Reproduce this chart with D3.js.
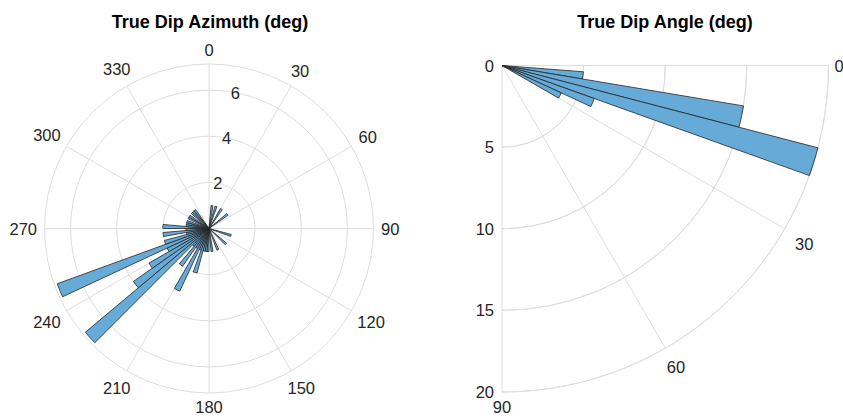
<!DOCTYPE html>
<html>
<head>
<meta charset="utf-8">
<script src="https://cdn.jsdelivr.net/npm/d3@7"></script>
<style>
  html, body { margin: 0; padding: 0; background: #fff; }
  svg text { font-family: "Liberation Sans", Arial, Helvetica, sans-serif; }
</style>
</head>
<body>
<svg id="chart" width="843" height="418"></svg>
<script>
// ---------- DATA ----------
// Left: True Dip Azimuth histogram, 5-degree bins starting at 0
const azBinWidth = 5;
const azCounts = [
  0,1,0,1,0,0,1,0,0,0,1,0,   // 0-55
  0,0,0,0,0,0,0,0,0,1,0,0,   // 60-115
  0,0,1,0,0,0,0,1,0,0,1,0,   // 120-175
  1,1,1,2,1,3,1,2,1,7,4,3,   // 180-235
  2,7,2,1,2,1,2,1,1,1,0,1,   // 240-295
  1,0,1,1,1,0,0,0,0,0,0,0    // 300-355
];
const azThetaTicks = [0,30,60,90,120,150,180,210,240,270,300,330];
const azRTicks = [2,4,6];
const azRMax = 7.13;

// Right: True Dip Angle histogram
const dipEdges = [4.4, 9.5, 14.6, 19.7, 24.8, 29.9];
const dipCounts = [5, 15, 20, 6, 4];
const dipThetaTicks = [0,30,60,90];
const dipRTicks = [0,5,10,15,20];
const dipRMax = 20;

const titles = ["True Dip Azimuth (deg)", "True Dip Angle (deg)"];

// ---------- STYLE ----------
const gridColor = "#dedede";
const barFill = "#66aad7";
const barStroke = "#262626";
const textColor = "#262626";
const tickFont = 16.5;
const titleFont = 18;
const rad = Math.PI / 180;

const svg = d3.select("#chart");

// ---------- LEFT POLAR ----------
{
  const cx = 209, cy = 228.5, R = 164.5;
  const g = svg.append("g").attr("transform", `translate(${cx},${cy})`);
  const r = d3.scaleLinear().domain([0, azRMax]).range([0, R]);
  const pt = (deg, rr) => [Math.sin(deg*rad)*rr, -Math.cos(deg*rad)*rr];

  g.selectAll("line.spoke").data(azThetaTicks).join("line")
    .attr("x1", 0).attr("y1", 0)
    .attr("x2", d => pt(d, R)[0]).attr("y2", d => pt(d, R)[1])
    .attr("stroke", gridColor).attr("stroke-width", 1);
  g.selectAll("circle.ring").data(azRTicks.concat([azRMax])).join("circle")
    .attr("r", d => r(d)).attr("fill", "none")
    .attr("stroke", gridColor).attr("stroke-width", 1);

  const arc = d3.arc();
  const bins = azCounts.map((c, i) => ({start: i*azBinWidth, end: (i+1)*azBinWidth, c}))
    .filter(d => d.c > 0);
  g.selectAll("path.bar").data(bins).join("path")
    .attr("d", d => arc({innerRadius: 0, outerRadius: r(d.c),
                         startAngle: d.start*rad, endAngle: d.end*rad}))
    .attr("fill", barFill).attr("stroke", barStroke).attr("stroke-width", 0.8);

  const th = g.selectAll("text.th").data(azThetaTicks).join("text")
    .attr("text-anchor", "middle").attr("dominant-baseline", "central")
    .attr("font-size", tickFont).attr("fill", textColor)
    .text(d => d);
  th.each(function(d) {
    const w = this.getComputedTextLength();
    const off = 7.5 + Math.abs(Math.sin(d*rad)) * w / 2 + Math.abs(Math.cos(d*rad)) * 6.5;
    const p = pt(d, R + off);
    d3.select(this).attr("x", p[0]).attr("y", p[1]);
  });
  g.selectAll("text.rl").data(azRTicks).join("text")
    .attr("x", d => pt(11, r(d))[0]).attr("y", d => pt(11, r(d))[1])
    .attr("text-anchor", "middle").attr("dominant-baseline", "central")
    .attr("font-size", tickFont).attr("fill", textColor)
    .text(d => d);

  svg.append("text").attr("x", 210).attr("y", 28).attr("text-anchor", "middle")
    .attr("font-size", titleFont).attr("font-weight", "bold").attr("fill", "#000")
    .text(titles[0]);
}

// ---------- RIGHT POLAR (quarter) ----------
{
  const ox = 502, oy = 65.5, R = 326.5;
  const g = svg.append("g").attr("transform", `translate(${ox},${oy})`);
  const r = d3.scaleLinear().domain([0, dipRMax]).range([0, R]);
  const pt = (deg, rr) => [Math.cos(deg*rad)*rr, Math.sin(deg*rad)*rr];
  const toArc = deg => (90 + deg) * rad;

  g.selectAll("line.spoke").data(dipThetaTicks).join("line")
    .attr("x1", 0).attr("y1", 0)
    .attr("x2", d => pt(d, R)[0]).attr("y2", d => pt(d, R)[1])
    .attr("stroke", gridColor).attr("stroke-width", 1);
  const ringArc = d3.arc();
  g.selectAll("path.ring").data(dipRTicks.filter(d => d > 0)).join("path")
    .attr("d", d => ringArc({innerRadius: r(d), outerRadius: r(d),
                             startAngle: toArc(0), endAngle: toArc(90)}))
    .attr("fill", "none").attr("stroke", gridColor).attr("stroke-width", 1);

  const arc = d3.arc();
  const bins = dipCounts.map((c, i) => ({start: dipEdges[i], end: dipEdges[i+1], c}));
  g.selectAll("path.bar").data(bins).join("path")
    .attr("d", d => arc({innerRadius: 0, outerRadius: r(d.c),
                         startAngle: toArc(d.start), endAngle: toArc(d.end)}))
    .attr("fill", barFill).attr("stroke", barStroke).attr("stroke-width", 0.8);

  const thOff = {0: 337, 30: 349, 60: 348, 90: 341};
  g.selectAll("text.th").data(dipThetaTicks).join("text")
    .attr("x", d => pt(d, thOff[d])[0]).attr("y", d => pt(d, thOff[d])[1] + (d === 30 ? 4 : 0))
    .attr("text-anchor", "middle").attr("dominant-baseline", "central")
    .attr("font-size", tickFont).attr("fill", textColor)
    .text(d => d);
  g.selectAll("text.rl").data(dipRTicks).join("text")
    .attr("x", -8).attr("y", d => r(d))
    .attr("text-anchor", "end").attr("dominant-baseline", "central")
    .attr("font-size", tickFont).attr("fill", textColor)
    .text(d => d);

  svg.append("text").attr("x", 665).attr("y", 28).attr("text-anchor", "middle")
    .attr("font-size", titleFont).attr("font-weight", "bold").attr("fill", "#000")
    .text(titles[1]);
}
</script>
</body>
</html>
